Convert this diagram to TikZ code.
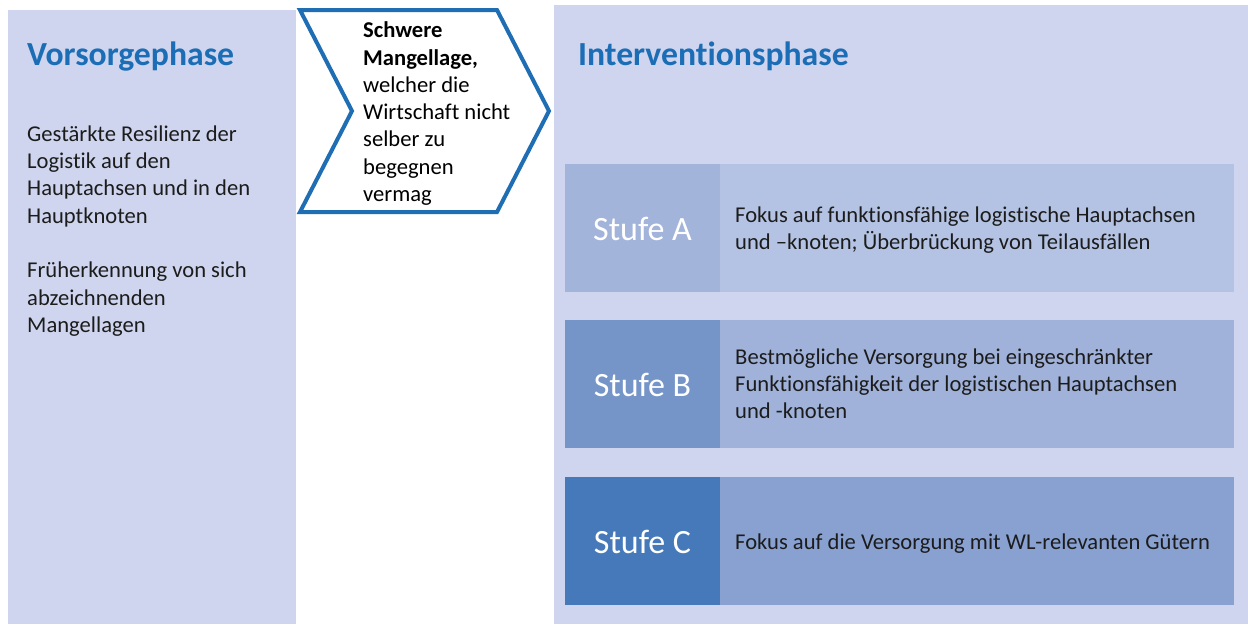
\documentclass[tikz,border=0pt]{standalone}
\usepackage{fontspec}
\setmainfont{Carlito}[Ligatures=NoCommon]
\definecolor{panel}{HTML}{CFD5EE}
\definecolor{titleblue}{HTML}{1B6DB5}
\definecolor{chev}{HTML}{1F6EB4}
\definecolor{aL}{HTML}{A3B4DB}
\definecolor{aR}{HTML}{B4C3E3}
\definecolor{bL}{HTML}{7594C8}
\definecolor{bR}{HTML}{A0B2DA}
\definecolor{cL}{HTML}{4679BA}
\definecolor{cR}{HTML}{88A1D1}
\definecolor{txt}{HTML}{1C1C1C}
\tikzset{
  title/.style={anchor=base west,inner sep=0pt,text=titleblue,font=\fontsize{33.7}{40}\selectfont\bfseries},
  body/.style={anchor=base west,inner sep=0pt,text=txt,align=left,font=\fontsize{22.6}{27.3}\selectfont},
  desc/.style={anchor=base west,inner sep=0pt,text=txt,align=left,font=\fontsize{22.6}{27.3}\selectfont},
  stufe/.style={anchor=center,inner sep=0pt,text=white,font=\fontsize{34}{40}\selectfont},
}
\begin{document}
\begin{tikzpicture}[x=1pt,y=-1pt]
\useasboundingbox (0,0) rectangle (1248,624);
\fill[white] (0,0) rectangle (1248,624);
% panels
\fill[panel] (8,10) rectangle (296,624);
\fill[panel] (554,5) rectangle (1248,624);
% chevron
\draw[chev,line width=4pt,line join=miter,fill=white]
  (300,10) -- (497,10) -- (549,111) -- (497,212) -- (300,212) -- (352,111) -- cycle;
% titles
\node[title] (t1) at (27,65) {Vorsorgephase};
\node[title] (t2) at (578,65) {Interventionsphase};
% left body (anchor = baseline of last line)
\node[body] (b1) at (27,223) {Gestärkte Resilienz der\\Logistik auf den\\Hauptachsen und in den\\Hauptknoten};
\node[body] (b2) at (27,332.5) {Früherkennung von sich\\abzeichnenden\\Mangellagen};
% chevron text
\node[anchor=base west,inner sep=0pt,align=left,text=black,font=\fontsize{22.6}{27.3}\selectfont] (ch) at (363,201.5)
  {\textbf{Schwere}\\\textbf{Mangellage,}\\welcher die\\Wirtschaft nicht\\selber zu\\begegnen\\vermag};
% rows
\fill[aL] (565,164) rectangle (720,292);
\fill[aR] (720,164) rectangle (1234,292);
\fill[bL] (565,320) rectangle (720,448);
\fill[bR] (720,320) rectangle (1234,448);
\fill[cL] (565,477) rectangle (720,605);
\fill[cR] (720,477) rectangle (1234,605);
\node[stufe] (sa) at (642.5,229) {Stufe A};
\node[stufe] (sb) at (642.5,385) {Stufe B};
\node[stufe] (sc) at (642.5,542) {Stufe C};
\node[desc] (da) at (735,249.3) {Fokus auf funktionsfähige logistische Hauptachsen\\und –knoten; Überbrückung von Teilausfällen};
\node[desc] (db) at (735,418.6) {Bestmögliche Versorgung bei eingeschränkter\\Funktionsfähigkeit der logistischen Hauptachsen\\und -knoten};
\node[desc] (dc) at (735,549) {Fokus auf die Versorgung mit WL-relevanten Gütern};
\end{tikzpicture}
\end{document}
